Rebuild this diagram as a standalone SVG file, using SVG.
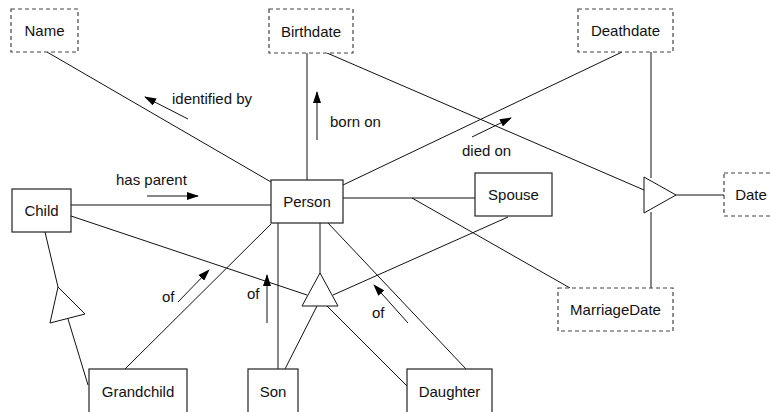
<svg xmlns="http://www.w3.org/2000/svg" width="770" height="412" viewBox="0 0 770 412">
<style>
.box{fill:#fff;stroke:#222;stroke-width:1.2}
.attr{fill:#fff;stroke:#444;stroke-width:1.2;stroke-dasharray:4 3}
.lbl{font-family:"Liberation Sans",Arial,sans-serif;font-size:15px;fill:#111;text-anchor:middle}
.note{font-family:"Liberation Sans",Arial,sans-serif;font-size:15px;fill:#111}
.ln{stroke:#111;stroke-width:1;fill:none}
.ar{stroke:#111;stroke-width:1;fill:none;marker-end:url(#ah)}
.tri{fill:#fff;stroke:#111;stroke-width:1}
</style>
<defs>
<marker id="ah" markerWidth="12" markerHeight="8" refX="11" refY="4" orient="auto" markerUnits="userSpaceOnUse">
<path d="M0,0 L12,4 L0,8 Z" fill="#000"/>
</marker>
</defs>
<rect width="770" height="412" fill="#fff"/>
<g id="connectors">
<line class="ln" x1="47" y1="52" x2="271" y2="182"/>
<line class="ln" x1="307" y1="53" x2="307" y2="180"/>
<line class="ln" x1="327" y1="53" x2="644" y2="190"/>
<line class="ln" x1="622" y1="52" x2="343" y2="185"/>
<line class="ln" x1="651" y1="52" x2="651" y2="178"/>
<line class="ln" x1="651" y1="212" x2="651" y2="288"/>
<line class="ln" x1="676" y1="195" x2="724" y2="195"/>
<line class="ln" x1="71" y1="205" x2="271" y2="205"/>
<line class="ln" x1="343" y1="198" x2="475" y2="198"/>
<line class="ln" x1="412" y1="198" x2="570" y2="288"/>
<line class="ln" x1="71" y1="216" x2="307" y2="295"/>
<line class="ln" x1="508" y1="217" x2="333" y2="295"/>
<line class="ln" x1="320" y1="223" x2="320" y2="273"/>
<line class="ln" x1="317" y1="306" x2="285" y2="369"/>
<line class="ln" x1="327" y1="306" x2="407" y2="386"/>
<line class="ln" x1="278" y1="223" x2="278" y2="369"/>
<line class="ln" x1="271" y1="224" x2="125" y2="369"/>
<line class="ln" x1="328" y1="223" x2="466" y2="369"/>
<line class="ln" x1="45" y1="232" x2="58" y2="287"/>
<line class="ln" x1="68" y1="319" x2="88" y2="385"/>
<line class="ar" x1="188" y1="119" x2="145" y2="97"/>
<line class="ar" x1="317" y1="140" x2="317" y2="92"/>
<line class="ar" x1="472" y1="137" x2="511" y2="118"/>
<line class="ar" x1="147" y1="196" x2="198" y2="196"/>
<line class="ar" x1="178" y1="302" x2="209" y2="270"/>
<line class="ar" x1="267" y1="323" x2="267" y2="275"/>
<line class="ar" x1="408" y1="323" x2="374" y2="285"/>
</g>
<g id="labels">
<text class="note" x="172" y="104">identified by</text>
<text class="note" x="330" y="127">born on</text>
<text class="note" x="462" y="156">died on</text>
<text class="note" x="116" y="185">has parent</text>
<text class="note" x="162" y="302">of</text>
<text class="note" x="247" y="299">of</text>
<text class="note" x="372" y="318">of</text>
</g>
<g id="isa-date"><polygon class="tri" points="644,177 644,213 676,195"/></g>
<g id="isa-relative"><polygon class="tri" points="320,273 302,306 338,306"/></g>
<g id="isa-child"><polygon class="tri" points="58,287 50,323 85,314"/></g>
<g id="name"><rect class="attr" x="11" y="9" width="67" height="43"/><text class="lbl" x="44.5" y="36">Name</text></g>
<g id="birthdate"><rect class="attr" x="269" y="9" width="84" height="44"/><text class="lbl" x="311" y="37">Birthdate</text></g>
<g id="deathdate"><rect class="attr" x="578" y="9" width="95" height="43"/><text class="lbl" x="625.5" y="36">Deathdate</text></g>
<g id="date"><rect class="attr" x="724" y="173" width="54" height="43"/><text class="lbl" x="751" y="200">Date</text></g>
<g id="marriagedate"><rect class="attr" x="558" y="288" width="115" height="43"/><text class="lbl" x="615.5" y="315">MarriageDate</text></g>
<g id="child"><rect class="box" x="12" y="189" width="59" height="43"/><text class="lbl" x="41.5" y="216">Child</text></g>
<g id="person"><rect class="box" x="271" y="180" width="72" height="43"/><text class="lbl" x="307" y="207">Person</text></g>
<g id="spouse"><rect class="box" x="475" y="173" width="77" height="43"/><text class="lbl" x="513.5" y="200">Spouse</text></g>
<g id="grandchild"><rect class="box" x="89" y="369" width="98" height="50"/><text class="lbl" x="138" y="397">Grandchild</text></g>
<g id="son"><rect class="box" x="248" y="369" width="50" height="50"/><text class="lbl" x="273" y="397">Son</text></g>
<g id="daughter"><rect class="box" x="407" y="369" width="85" height="50"/><text class="lbl" x="449.5" y="397">Daughter</text></g>
</svg>
